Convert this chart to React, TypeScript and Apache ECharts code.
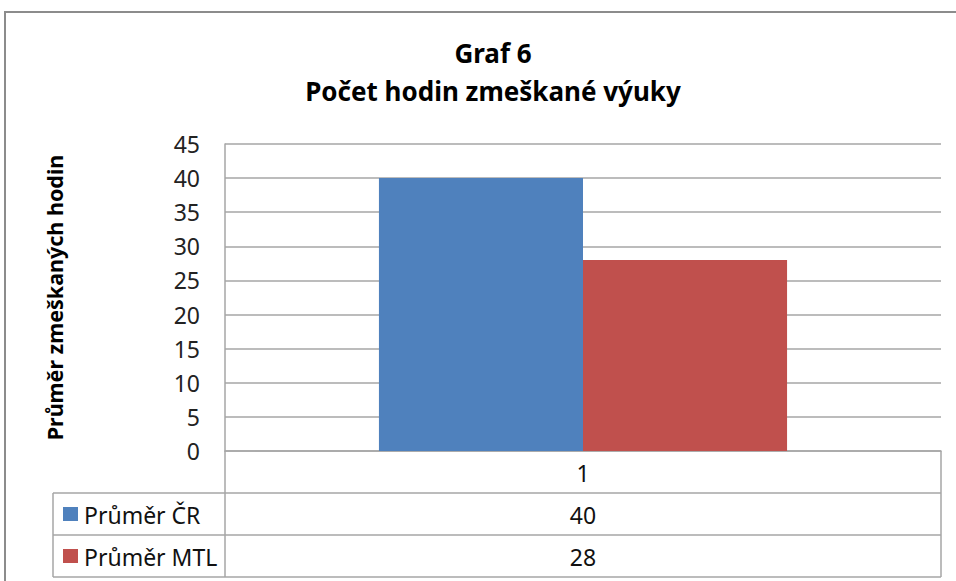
import React, { useEffect, useRef } from "react";
import * as echarts from "echarts";

const titleLines = ["Graf 6", "Počet hodin zmeškané výuky"];
const yAxisTitle = "Průměr zmeškaných hodin";
const categories = ["1"];
const seriesNames = ["Průměr ČR", "Průměr MTL"];
const valuesCR = [40];
const valuesMTL = [28];
const yMin = 0;
const yMax = 45;
const yStep = 5;

const COLORS = ["#4F81BD", "#C0504D"];
const FONT = "'Noto Sans', 'DejaVu Sans', sans-serif";
const LINE = "#a6a6a6";

export default function App() {
  const ref = useRef<HTMLDivElement>(null);
  useEffect(() => {
    if (!ref.current) return;
    const chart = echarts.init(ref.current, null, { renderer: "svg" });
    const L = 225, R = 941, T = 144, B = 451;
    const rowH = 42;
    const tableLeft = 53;
    const midX = (L + R) / 2;
    const allValues = [valuesCR, valuesMTL];
    const txt = { fontSize: 23, fontFamily: FONT, fill: "#111" };
    const graphic: any[] = [
      { type: "rect", shape: { x: 5, y: 12, width: 1000, height: 600 }, style: { fill: "none", stroke: "#8c8c8c", lineWidth: 2 }, silent: true },
      { type: "line", shape: { x1: L, y1: B, x2: L, y2: B + rowH * 3 }, style: { stroke: LINE, lineWidth: 1.5 } },
      { type: "line", shape: { x1: R, y1: B, x2: R, y2: B + rowH * 3 }, style: { stroke: LINE, lineWidth: 1.5 } },
      { type: "line", shape: { x1: tableLeft, y1: B + rowH, x2: tableLeft, y2: B + rowH * 3 }, style: { stroke: LINE, lineWidth: 1.5 } },
      ...[1, 2, 3].map((i) => ({ type: "line", shape: { x1: tableLeft, y1: B + rowH * i, x2: R, y2: B + rowH * i }, style: { stroke: LINE, lineWidth: 1.5 } })),
      { type: "text", x: midX, y: B + rowH / 2 + 1, style: { ...txt, text: categories[0], align: "center", verticalAlign: "middle" } },
      ...seriesNames.flatMap((name, i) => [
        { type: "rect", shape: { x: 63, y: B + rowH * (i + 1) + 14, width: 15, height: 14 }, style: { fill: COLORS[i] } },
        { type: "text", x: 84, y: B + rowH * (i + 1.5) + 1, style: { ...txt, text: name, align: "left", verticalAlign: "middle" } },
        { type: "text", x: midX, y: B + rowH * (i + 1.5) + 1, style: { ...txt, text: String(allValues[i][0]), align: "center", verticalAlign: "middle" } },
      ]),
    ];
    chart.setOption({
      animation: false,
      title: {
        text: titleLines.join("\n"),
        left: 488,
        textAlign: "center",
        top: 29,
        textStyle: { fontSize: 26, fontWeight: "bold", fontFamily: FONT, color: "#000", lineHeight: 38 },
      },
      grid: { left: L, right: 956 - R, top: T, bottom: 581 - B, containLabel: false },
      xAxis: {
        type: "category",
        data: categories,
        axisLine: { show: true, lineStyle: { color: LINE, width: 1.5 } },
        axisTick: { show: false },
        axisLabel: { show: false },
      },
      yAxis: {
        type: "value",
        min: yMin,
        max: yMax,
        interval: yStep,
        name: yAxisTitle,
        nameLocation: "middle",
        nameRotate: 90,
        nameGap: 160,
        nameTextStyle: { fontSize: 21.5, fontWeight: "bold", fontFamily: FONT, color: "#000" },
        axisLine: { show: true, lineStyle: { color: LINE, width: 1.5 } },
        axisTick: { show: false },
        axisLabel: { fontSize: 23, fontFamily: FONT, color: "#222", margin: 25 },
        splitLine: { show: true, lineStyle: { color: LINE, width: 1.5 } },
      },
      series: [
        { name: seriesNames[0], type: "bar", data: valuesCR, itemStyle: { color: COLORS[0] }, barGap: "0%", barCategoryGap: "43%" },
        { name: seriesNames[1], type: "bar", data: valuesMTL, itemStyle: { color: COLORS[1] }, barGap: "0%", barCategoryGap: "43%" },
      ],
      graphic,
    });
    return () => chart.dispose();
  }, []);
  return <div ref={ref} style={{ position: "fixed", left: 0, top: 0, width: 956, height: 581, background: "#fff" }} />;
}
